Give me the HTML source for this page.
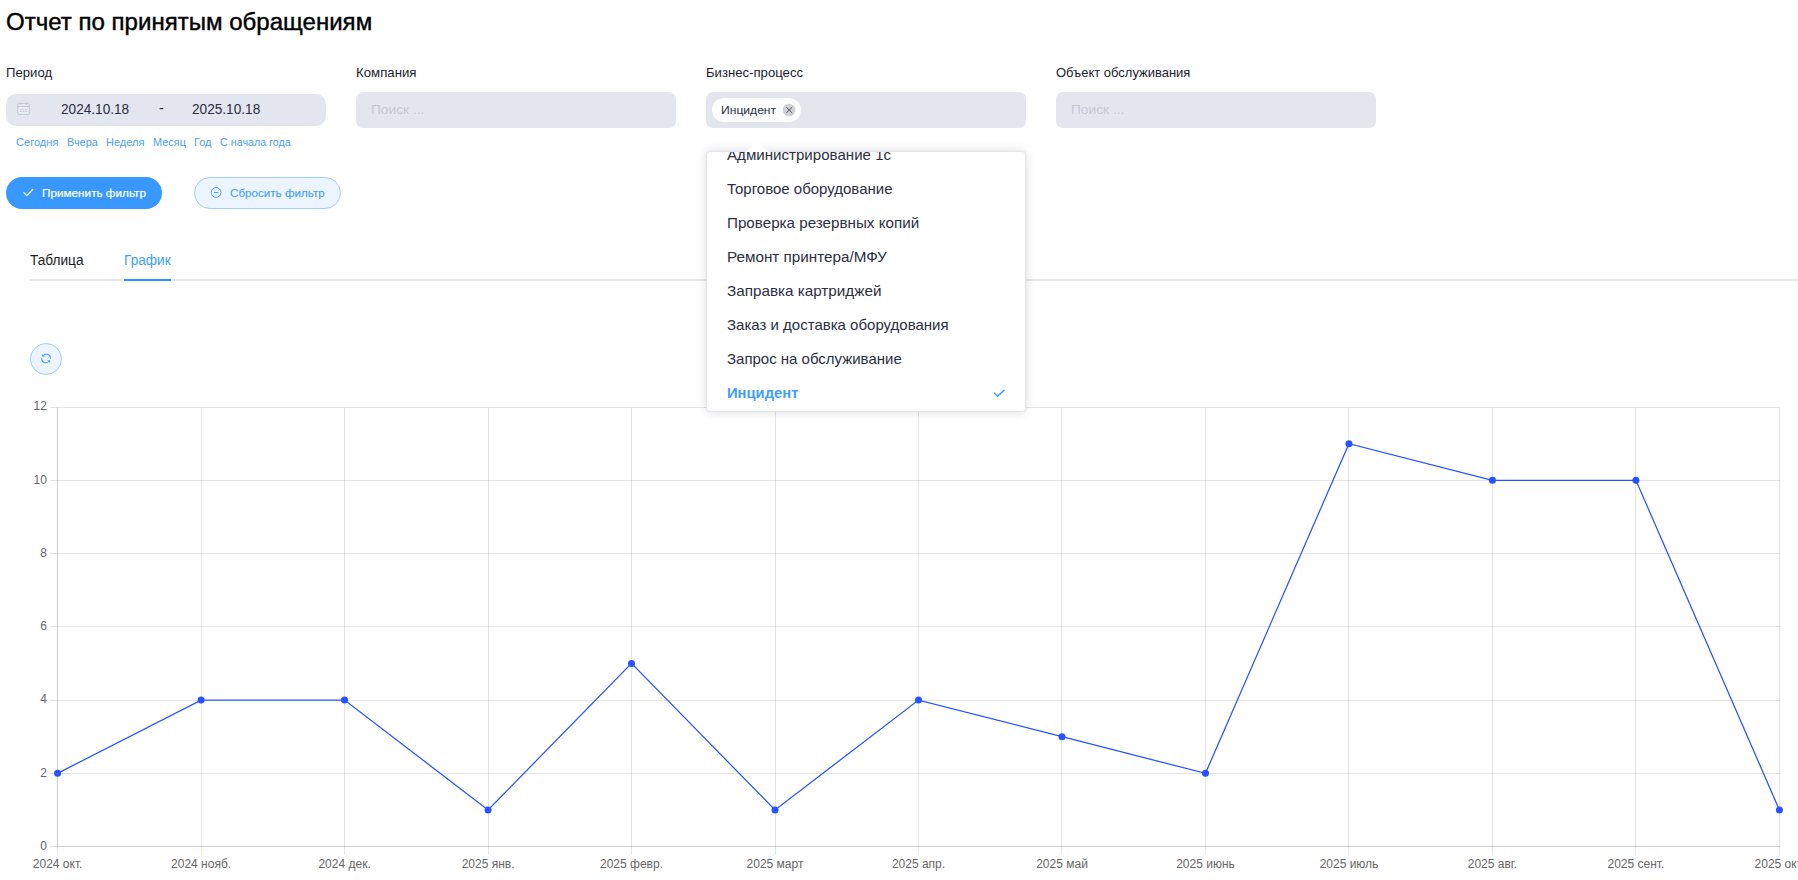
<!DOCTYPE html>
<html lang="ru">
<head>
<meta charset="utf-8">
<title>Отчет по принятым обращениям</title>
<style>
*{box-sizing:border-box;margin:0;padding:0}
html,body{width:1798px;height:880px;overflow:hidden;background:#fff}
body{font-family:"Liberation Sans",sans-serif;color:#000;position:relative}
.t{position:absolute;white-space:nowrap;transform-origin:0 50%;line-height:1}
.inp{position:absolute;background:#e3e6ef;border-radius:7px;height:36px;top:92px;width:320px}
.btn{position:absolute;top:177px;height:32px;border-radius:16px}
#apply{left:6px;width:156px;background:#3898ff}
#reset{left:194px;width:147px;background:#ecf5ff;border:1px solid #a0cfff}
#tabline{position:absolute;left:30px;right:0;top:279px;height:2px;background:#e7e7e8}
#tabact{position:absolute;left:124px;width:47px;top:279px;height:2px;background:#2a92ff}
#refresh{position:absolute;left:30px;top:343px;width:32px;height:32px;border-radius:50%;background:#ecf5ff;border:1px solid #a0cfff}
#tagbox{position:absolute;left:712px;top:98px;width:89px;height:24px;border-radius:12px;background:#fdfdfe}
#dd{position:absolute;left:706px;top:151px;width:320px;height:261px;background:#fff;border:1px solid #e4e7ed;border-radius:4px;box-shadow:0 0 12px rgba(0,0,0,.12),0 0 3px rgba(0,0,0,.05);overflow:hidden}
#chart{position:absolute;left:0;top:0}
.ico{position:absolute;overflow:visible}
</style>
</head>
<body>
<svg id="chart" width="1798" height="880" viewBox="0 0 1798 880">
<g stroke="#000" stroke-opacity=".1" stroke-width="1" shape-rendering="crispEdges">
<line x1="49.5" y1="846.5" x2="1779.5" y2="846.5"/>
<line x1="49.5" y1="773.5" x2="1779.5" y2="773.5"/>
<line x1="49.5" y1="700.5" x2="1779.5" y2="700.5"/>
<line x1="49.5" y1="626.5" x2="1779.5" y2="626.5"/>
<line x1="49.5" y1="553.5" x2="1779.5" y2="553.5"/>
<line x1="49.5" y1="480.5" x2="1779.5" y2="480.5"/>
<line x1="49.5" y1="407.5" x2="1779.5" y2="407.5"/>
<line x1="57.5" y1="407.5" x2="57.5" y2="854.5"/>
<line x1="201.5" y1="407.5" x2="201.5" y2="854.5"/>
<line x1="344.5" y1="407.5" x2="344.5" y2="854.5"/>
<line x1="488.5" y1="407.5" x2="488.5" y2="854.5"/>
<line x1="631.5" y1="407.5" x2="631.5" y2="854.5"/>
<line x1="775.5" y1="407.5" x2="775.5" y2="854.5"/>
<line x1="918.5" y1="407.5" x2="918.5" y2="854.5"/>
<line x1="1061.5" y1="407.5" x2="1061.5" y2="854.5"/>
<line x1="1205.5" y1="407.5" x2="1205.5" y2="854.5"/>
<line x1="1348.5" y1="407.5" x2="1348.5" y2="854.5"/>
<line x1="1492.5" y1="407.5" x2="1492.5" y2="854.5"/>
<line x1="1635.5" y1="407.5" x2="1635.5" y2="854.5"/>
<line x1="1779.5" y1="407.5" x2="1779.5" y2="854.5"/>
<line x1="57.5" y1="407.0" x2="57.5" y2="847.0"/>
<line x1="58.0" y1="846.5" x2="1780.0" y2="846.5"/>
</g>
<g font-family="Liberation Sans, sans-serif" font-size="12" fill="#666">
<text x="46.9" y="850" text-anchor="end">0</text>
<text x="46.9" y="777" text-anchor="end">2</text>
<text x="46.9" y="703" text-anchor="end">4</text>
<text x="46.9" y="630" text-anchor="end">6</text>
<text x="46.9" y="557" text-anchor="end">8</text>
<text x="46.9" y="484" text-anchor="end">10</text>
<text x="46.9" y="410" text-anchor="end">12</text>
<text x="57.6" y="868" text-anchor="middle">2024 окт.</text>
<text x="201.1" y="868" text-anchor="middle">2024 нояб.</text>
<text x="344.6" y="868" text-anchor="middle">2024 дек.</text>
<text x="488.1" y="868" text-anchor="middle">2025 янв.</text>
<text x="631.5" y="868" text-anchor="middle">2025 февр.</text>
<text x="775.0" y="868" text-anchor="middle">2025 март</text>
<text x="918.5" y="868" text-anchor="middle">2025 апр.</text>
<text x="1062.0" y="868" text-anchor="middle">2025 май</text>
<text x="1205.5" y="868" text-anchor="middle">2025 июнь</text>
<text x="1349.0" y="868" text-anchor="middle">2025 июль</text>
<text x="1492.4" y="868" text-anchor="middle">2025 авг.</text>
<text x="1635.9" y="868" text-anchor="middle">2025 сент.</text>
<text x="1779.4" y="868" text-anchor="middle">2025 окт.</text>
</g>
<polyline points="57.60,773.33 201.08,700.07 344.57,700.07 488.05,809.97 631.53,663.43 775.02,809.97 918.50,700.07 1061.98,736.70 1205.47,773.33 1348.95,443.63 1492.43,480.27 1635.92,480.27 1779.40,809.97" fill="none" stroke="#2653ff" stroke-width="1.25"/>
<g fill="#2653ff">
<circle cx="57.60" cy="773.33" r="3.5"/>
<circle cx="201.08" cy="700.07" r="3.5"/>
<circle cx="344.57" cy="700.07" r="3.5"/>
<circle cx="488.05" cy="809.97" r="3.5"/>
<circle cx="631.53" cy="663.43" r="3.5"/>
<circle cx="775.02" cy="809.97" r="3.5"/>
<circle cx="918.50" cy="700.07" r="3.5"/>
<circle cx="1061.98" cy="736.70" r="3.5"/>
<circle cx="1205.47" cy="773.33" r="3.5"/>
<circle cx="1348.95" cy="443.63" r="3.5"/>
<circle cx="1492.43" cy="480.27" r="3.5"/>
<circle cx="1635.92" cy="480.27" r="3.5"/>
<circle cx="1779.40" cy="809.97" r="3.5"/>
</g>
</svg>

<div class="inp" style="left:6px;top:94px;height:32px;border-radius:10px"></div>
<div class="inp" style="left:356px"></div>
<div class="inp" style="left:706px"></div>
<div class="inp" style="left:1056px"></div>
<div id="tagbox"></div>
<div id="apply" class="btn"></div>
<div id="reset" class="btn"></div>
<div id="tabline"></div>
<div id="tabact"></div>
<div id="refresh"></div>

<div id="title" class="t" style="left:6.00px;top:11.43px;font-size:23px;color:#000;transform:scaleX(1.0452);-webkit-text-stroke:.4px #000">Отчет по принятым обращениям</div>
<div id="lbl1" class="t" style="left:6.00px;top:65.90px;font-size:13px;color:#1b1c2b;transform:scaleX(1.0106);">Период</div>
<div id="lbl2" class="t" style="left:356.00px;top:65.90px;font-size:13px;color:#1b1c2b;transform:scaleX(1.0163);">Компания</div>
<div id="lbl3" class="t" style="left:706.00px;top:65.90px;font-size:13px;color:#1b1c2b;transform:scaleX(1.0108);">Бизнес-процесс</div>
<div id="lbl4" class="t" style="left:1056.00px;top:65.90px;font-size:13px;color:#1b1c2b;transform:scaleX(0.9985);">Объект обслуживания</div>
<div id="date1" class="t" style="left:61.00px;top:102.15px;font-size:14px;color:#2b2d42;transform:scaleX(0.9724);">2024.10.18</div>
<div id="dash" class="t" style="left:159.00px;top:101.05px;font-size:14px;color:#2b2d42;transform:scaleX(1.0000);">-</div>
<div id="date2" class="t" style="left:192.00px;top:102.15px;font-size:14px;color:#2b2d42;transform:scaleX(0.9736);">2025.10.18</div>
<div id="ph1" class="t" style="left:371.00px;top:102.70px;font-size:13px;color:#c6c9d6;transform:scaleX(1.0567);">Поиск ...</div>
<div id="ph2" class="t" style="left:1071.00px;top:102.70px;font-size:13px;color:#c6c9d6;transform:scaleX(1.0567);">Поиск ...</div>
<div id="ql1" class="t" style="left:16.00px;top:137.39px;font-size:11px;color:#4d9ff8;transform:scaleX(1.0065);">Сегодня</div>
<div id="ql2" class="t" style="left:67.00px;top:137.39px;font-size:11px;color:#4d9ff8;transform:scaleX(0.9927);">Вчера</div>
<div id="ql3" class="t" style="left:106.00px;top:137.39px;font-size:11px;color:#4d9ff8;transform:scaleX(0.9996);">Неделя</div>
<div id="ql4" class="t" style="left:153.00px;top:137.39px;font-size:11px;color:#4d9ff8;transform:scaleX(0.9965);">Месяц</div>
<div id="ql5" class="t" style="left:194.00px;top:137.39px;font-size:11px;color:#4d9ff8;transform:scaleX(1.0025);">Год</div>
<div id="ql6" class="t" style="left:220.00px;top:137.39px;font-size:11px;color:#4d9ff8;transform:scaleX(0.9758);">С начала года</div>
<div id="bt1" class="t" style="left:42.00px;top:188.37px;font-size:11.5px;color:#fff;transform:scaleX(1.0201);-webkit-text-stroke:.2px #fff">Применить фильтр</div>
<div id="bt2" class="t" style="left:230.00px;top:188.37px;font-size:11.5px;color:#409eff;transform:scaleX(1.0107);-webkit-text-stroke:.1px #409eff">Сбросить фильтр</div>
<div id="tab1" class="t" style="left:30.00px;top:252.95px;font-size:14px;color:#1c1c24;transform:scaleX(0.9751);">Таблица</div>
<div id="tab2" class="t" style="left:124.00px;top:252.95px;font-size:14px;color:#409eff;transform:scaleX(0.9757);">График</div>
<div id="tag" class="t" style="left:721.00px;top:105.27px;font-size:11.5px;color:#2b2d42;transform:scaleX(1.0523);">Инцидент</div>

<div id="dd">
<div id="opt0" class="t" style="left:20.00px;top:-4.70px;font-size:15px;color:#2c2e42;transform:scaleX(1.0068);">Администрирование 1с</div>
<div id="opt1" class="t" style="left:20.00px;top:29.30px;font-size:15px;color:#2c2e42;transform:scaleX(1.0001);">Торговое оборудование</div>
<div id="opt2" class="t" style="left:20.00px;top:63.30px;font-size:15px;color:#2c2e42;transform:scaleX(1.0125);">Проверка резервных копий</div>
<div id="opt3" class="t" style="left:20.00px;top:97.30px;font-size:15px;color:#2c2e42;transform:scaleX(1.0159);">Ремонт принтера/МФУ</div>
<div id="opt4" class="t" style="left:20.00px;top:131.30px;font-size:15px;color:#2c2e42;transform:scaleX(1.0165);">Заправка картриджей</div>
<div id="opt5" class="t" style="left:20.00px;top:165.30px;font-size:15px;color:#2c2e42;transform:scaleX(1.0004);">Заказ и доставка оборудования</div>
<div id="opt6" class="t" style="left:20.00px;top:199.30px;font-size:15px;color:#2c2e42;transform:scaleX(0.9989);">Запрос на обслуживание</div>
<div id="opt7" class="t" style="left:20.00px;top:233.00px;font-size:15px;color:#409eff;transform:scaleX(0.9847);font-weight:bold">Инцидент</div>
</div>
<div class="arrow" style="position:absolute;left:745px;top:141.5px;width:0;height:0;border-left:12px solid transparent;border-right:12px solid transparent;border-bottom:10px solid #fff"></div>
<svg id="icons" width="1798" height="880" viewBox="0 0 1798 880" style="position:absolute;left:0;top:0">
<!-- calendar -->
<g stroke="#c3c7d5" fill="none" stroke-width="1">
<rect x="17.7" y="103.6" width="11.7" height="10.8" rx="1" fill="#e9ebf5"/>
<line x1="17.7" y1="106.5" x2="29.4" y2="106.5"/>
<line x1="20.6" y1="102.2" x2="20.6" y2="105"/>
<line x1="26.5" y1="102.2" x2="26.5" y2="105"/>
</g>
<g fill="#c3c6d6">
<rect x="20" y="109" width="1.7" height="1"/><rect x="22.7" y="109" width="1.7" height="1"/><rect x="25.4" y="109" width="1.7" height="1"/>
<rect x="20" y="111" width="1.7" height="1"/><rect x="22.7" y="111" width="1.7" height="1"/><rect x="25.4" y="111" width="1.7" height="1"/>
</g>
<!-- apply check -->
<path d="M23.9 192.7 L26.9 195.6 L32.7 189.5" fill="none" stroke="#fff" stroke-width="1.2" stroke-linecap="round" stroke-linejoin="round"/>
<!-- reset circle-minus -->
<circle cx="216.1" cy="192.45" r="4.9" fill="none" stroke="#409eff" stroke-width="1"/>
<line x1="214" y1="192.5" x2="218.4" y2="192.5" stroke="#409eff" stroke-width="1"/>
<!-- tag close -->
<circle cx="789.1" cy="110" r="6.3" fill="#d1d2d6"/>
<path d="M786.2 107.1 L792.2 113 M792.2 107.1 L786.2 113" stroke="#3f4150" stroke-width=".9" fill="none"/>
<!-- refresh -->
<g fill="none" stroke="#409eff" stroke-width="1.05">
<path d="M43.3 355.5 C44.3 354.5 45.2 354.25 46.2 354.25 C49 354.25 50.6 356.2 50.6 358.7"/>
<path d="M48.9 361.5 C47.9 362.5 47.0 362.75 46.0 362.75 C43.2 362.75 41.6 360.8 41.6 358.3"/>
</g>
<path d="M42.1 353.9 L42.1 356.8 L45.0 356.8 Z" fill="#409eff"/>
<path d="M50.1 363.1 L50.1 360.2 L47.2 360.2 Z" fill="#409eff"/>
<!-- dropdown check -->
<path d="M994.6 393.3 L997.6 396.2 L1004 390.3" fill="none" stroke="#3a9bff" stroke-width="1.5" stroke-linecap="round" stroke-linejoin="round"/>
</svg>
</body>
</html>
